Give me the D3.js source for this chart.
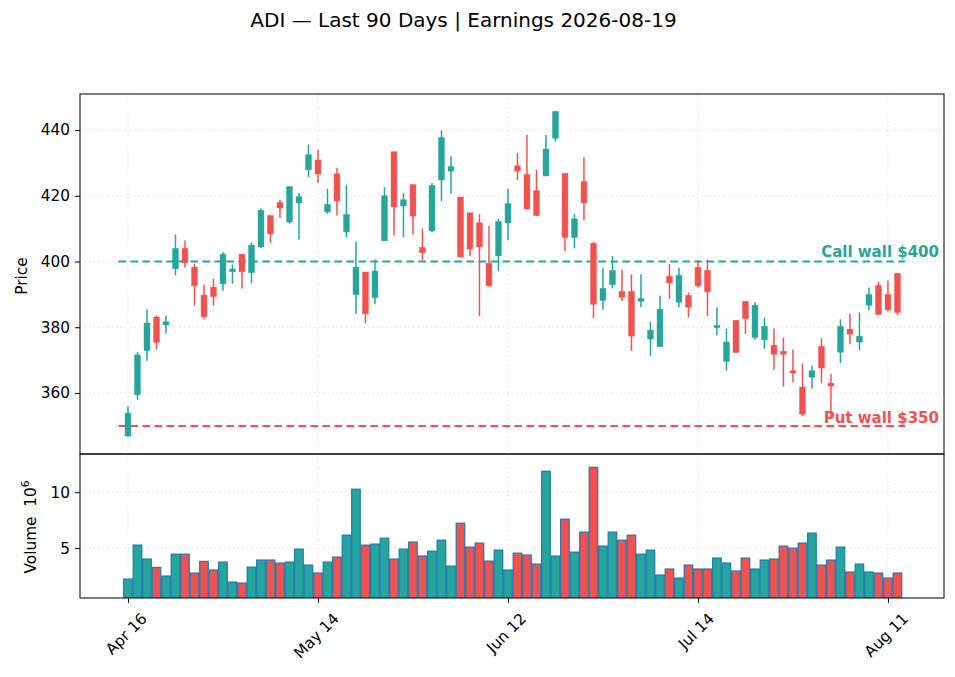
<!DOCTYPE html>
<html>
<head>
<meta charset="utf-8">
<script src="https://cdn.jsdelivr.net/npm/d3@7"></script>
<style>
  body { margin: 0; background: #fff; }
  text { font-family: "DejaVu Sans", sans-serif; }
</style>
</head>
<body>
<script>
// Data
const ticker = "ADI";
const earningsDate = "2026-08-19";
const callWall = 400;
const putWall = 350;

const dates = [
  "2026-04-16","2026-04-17","2026-04-20","2026-04-21","2026-04-22","2026-04-23","2026-04-24","2026-04-27","2026-04-28","2026-04-29",
  "2026-04-30","2026-05-01","2026-05-04","2026-05-05","2026-05-06","2026-05-07","2026-05-08","2026-05-11","2026-05-12","2026-05-13",
  "2026-05-14","2026-05-15","2026-05-18","2026-05-19","2026-05-20","2026-05-21","2026-05-22","2026-05-26","2026-05-27","2026-05-28",
  "2026-05-29","2026-06-01","2026-06-02","2026-06-03","2026-06-04","2026-06-05","2026-06-08","2026-06-09","2026-06-10","2026-06-11",
  "2026-06-12","2026-06-15","2026-06-16","2026-06-17","2026-06-18","2026-06-22","2026-06-23","2026-06-24","2026-06-25","2026-06-26",
  "2026-06-29","2026-06-30","2026-07-01","2026-07-02","2026-07-06","2026-07-07","2026-07-08","2026-07-09","2026-07-10","2026-07-13",
  "2026-07-14","2026-07-15","2026-07-16","2026-07-17","2026-07-20","2026-07-21","2026-07-22","2026-07-23","2026-07-24","2026-07-27",
  "2026-07-28","2026-07-29","2026-07-30","2026-07-31","2026-08-03","2026-08-04","2026-08-05","2026-08-06","2026-08-07","2026-08-10",
  "2026-08-11","2026-08-12"
];

const opens = [
  346.9,359.5,372.9,383.1,380.7,397.8,404.0,398.3,389.8,392.2,
  393.2,396.9,402.2,396.6,404.4,414.0,418.0,412.0,417.8,427.9,
  430.9,415.1,426.7,409.0,389.9,396.8,389.0,406.3,433.4,416.9,
  423.4,404.3,409.3,424.8,427.5,419.6,414.8,411.8,399.5,401.7,
  411.7,429.1,426.5,421.6,426.0,437.5,426.8,407.3,424.3,405.5,
  388.2,393.0,390.9,390.9,387.9,376.4,374.1,395.5,387.6,389.7,
  398.2,397.3,379.9,369.6,382.1,387.9,376.9,376.2,374.5,372.7,
  366.8,361.8,364.8,374.2,363.0,372.4,379.4,375.5,386.7,392.7,
  390.0,396.4
];
const highs = [
  356.0,372.4,385.5,383.6,383.6,408.2,406.4,399.4,393.0,394.7,
  402.8,399.1,402.2,405.8,416.1,414.0,418.8,422.8,420.8,435.6,
  433.9,422.1,428.5,423.3,406.0,396.8,400.6,422.6,433.4,420.8,
  423.4,410.0,423.9,439.8,432.0,419.6,414.8,414.4,410.8,413.0,
  422.1,433.0,438.5,427.9,438.5,445.9,426.8,414.5,431.7,406.0,
  398.1,401.7,397.5,396.1,396.1,381.7,389.6,399.3,398.1,390.5,
  400.4,400.6,386.1,379.6,382.1,387.9,387.6,382.9,379.6,376.9,
  373.2,369.0,368.4,376.6,365.8,382.4,384.2,384.5,392.1,393.8,
  394.2,396.4
];
const lows = [
  346.7,358.0,369.8,373.3,378.2,395.8,398.2,386.6,382.4,386.6,
  391.1,393.3,391.8,393.3,404.1,405.7,413.3,411.5,406.7,425.7,
  423.9,414.5,414.0,407.3,384.0,381.2,387.0,406.3,407.9,407.4,
  408.2,400.4,409.0,418.3,420.6,401.2,401.6,383.4,392.3,397.1,
  406.5,424.8,415.8,413.8,426.0,436.5,403.1,404.0,412.5,382.7,
  385.3,391.8,388.0,372.8,386.1,371.3,374.1,388.6,386.1,383.0,
  392.1,383.4,377.6,366.8,372.3,378.0,376.2,373.4,367.1,362.0,
  363.3,352.9,361.3,363.0,352.9,369.1,374.8,373.1,385.2,383.7,
  384.8,383.7
];
const closes = [
  353.9,371.6,381.3,375.4,381.7,404.0,399.6,392.6,383.2,389.3,
  402.2,397.7,396.9,405.0,415.6,408.4,416.3,422.8,419.7,432.5,
  426.6,417.4,418.4,414.3,398.3,384.1,397.1,420.0,416.6,418.8,
  413.8,402.7,423.1,437.7,428.9,401.4,403.8,404.4,392.6,412.2,
  417.6,427.5,416.0,414.0,434.2,445.6,407.3,413.0,417.8,387.0,
  391.8,397.3,389.1,377.3,388.8,379.1,385.5,393.5,395.8,386.1,
  392.6,390.8,380.6,375.5,372.3,382.6,386.7,380.3,371.8,371.8,
  366.1,353.6,366.8,367.6,362.1,380.3,377.9,377.3,390.0,383.9,
  385.3,384.5
];
// volume in millions of shares
const volumes = [
  2.23,5.27,4.02,3.27,2.50,4.46,4.46,2.77,3.81,3.04,
  3.75,1.96,1.87,3.30,3.93,3.93,3.66,3.75,4.91,3.48,
  2.77,3.75,4.20,6.16,10.27,5.27,5.36,5.89,4.02,4.91,
  5.54,4.29,4.73,5.71,3.39,7.23,5.09,5.45,3.84,4.82,
  3.04,4.55,4.38,3.57,11.88,4.29,7.59,4.64,6.43,12.23,
  5.18,6.43,5.71,6.16,4.46,4.82,2.59,3.13,2.32,3.48,
  3.13,3.13,4.11,3.66,2.95,4.11,3.13,3.93,4.02,5.18,
  5.00,5.45,6.34,3.48,3.93,5.09,2.86,3.57,2.86,2.77,
  2.32,2.77
];
const priceTicks = [360, 380, 400, 420, 440];
const volumeTicks = [5, 10];
const dateTickEvery = 20;

// Layout constants
const WIDTH = 955;
const HEIGHT = 677;
const LEFT = 80;
const RIGHT = 944;
const PRICE_TOP = 94;
const PRICE_BOTTOM = 454;
const VOL_TOP = 454;
const VOL_BOTTOM = 598;
const UP_COLOR = "#26a69a";
const DOWN_COLOR = "#ef5350";
const GRID_COLOR = "#dcdce8";
const FONT_SIZE = 15.3;

var svg = d3.select("body").append("svg")
  .attr("width", WIDTH)
  .attr("height", HEIGHT);

var n = dates.length;
var idx = d3.range(n);

var x = d3.scaleLinear().domain([-5.05, 85.9]).range([LEFT, RIGHT]);
var step = x(1) - x(0);
var yPrice = d3.scaleLinear().domain([341.45, 450.95]).range([PRICE_BOTTOM, PRICE_TOP]);
var yVol = d3.scaleLinear().domain([0.536, 13.42]).range([VOL_BOTTOM, VOL_TOP]);

var isUp = function(i) { return closes[i] >= opens[i]; };
var colorOf = function(i) { return isUp(i) ? UP_COLOR : DOWN_COLOR; };

var parseDate = d3.timeParse("%Y-%m-%d");
var fmtDate = d3.timeFormat("%b %d");
var dateTicks = idx.filter(function(i) { return i % dateTickEvery === 0; });

// clip paths so volume bars don't spill under the axis
var defs = svg.append("defs");
defs.append("clipPath").attr("id", "clipVol").append("rect")
  .attr("x", LEFT).attr("y", VOL_TOP).attr("width", RIGHT - LEFT).attr("height", VOL_BOTTOM - VOL_TOP);
defs.append("clipPath").attr("id", "clipPrice").append("rect")
  .attr("x", LEFT).attr("y", PRICE_TOP).attr("width", RIGHT - LEFT).attr("height", PRICE_BOTTOM - PRICE_TOP);

// Grid lines
var drawGrid = function(yScale, yTicks, top, bottom)
{
  var g = svg.append("g").attr("class", "grid");
  g.selectAll("line.gx").data(dateTicks).enter().append("line")
    .attr("x1", function(d) { return x(d); }).attr("x2", function(d) { return x(d); })
    .attr("y1", top).attr("y2", bottom)
    .attr("stroke", GRID_COLOR).attr("stroke-width", 1).attr("stroke-dasharray", "1.5,3");
  g.selectAll("line.gy").data(yTicks).enter().append("line")
    .attr("x1", LEFT).attr("x2", RIGHT)
    .attr("y1", function(d) { return yScale(d); }).attr("y2", function(d) { return yScale(d); })
    .attr("stroke", GRID_COLOR).attr("stroke-width", 1).attr("stroke-dasharray", "1.5,3");
};
drawGrid(yPrice, priceTicks, PRICE_TOP, PRICE_BOTTOM);
drawGrid(yVol, volumeTicks, VOL_TOP, VOL_BOTTOM);

// Wall lines with labels
var walls = [
  { value: callWall, label: "Call wall $" + callWall, color: UP_COLOR, dy: -5 },
  { value: putWall, label: "Put wall $" + putWall, color: DOWN_COLOR, dy: -3 }
];
var wallG = svg.append("g").attr("class", "walls");
wallG.selectAll("line").data(walls).enter().append("line")
  .attr("x1", x(-1)).attr("x2", x(81.8))
  .attr("y1", function(d) { return yPrice(d.value); })
  .attr("y2", function(d) { return yPrice(d.value); })
  .attr("stroke", function(d) { return d.color; })
  .attr("stroke-width", 2)
  .attr("stroke-dasharray", "7.5,4.5");

// Candles
var candleG = svg.append("g").attr("clip-path", "url(#clipPrice)");
var bodyW = step * 0.62;
candleG.selectAll("line.wick").data(idx).enter().append("line")
  .attr("class", "wick")
  .attr("x1", function(i) { return x(i); }).attr("x2", function(i) { return x(i); })
  .attr("y1", function(i) { return yPrice(highs[i]); })
  .attr("y2", function(i) { return yPrice(lows[i]); })
  .attr("stroke", colorOf)
  .attr("stroke-width", 1.5);
candleG.selectAll("rect.body").data(idx).enter().append("rect")
  .attr("class", "body")
  .attr("x", function(i) { return x(i) - bodyW / 2; })
  .attr("y", function(i) { return yPrice(Math.max(opens[i], closes[i])); })
  .attr("width", bodyW)
  .attr("height", function(i) { return Math.max(1.5, Math.abs(yPrice(opens[i]) - yPrice(closes[i]))); })
  .attr("fill", colorOf)
  .attr("stroke", colorOf)
  .attr("stroke-opacity", 0.5)
  .attr("stroke-width", 0.8);

wallG.selectAll("text").data(walls).enter().append("text")
  .attr("x", 939)
  .attr("y", function(d) { return yPrice(d.value) + d.dy; })
  .attr("text-anchor", "end")
  .attr("font-size", 15)
  .attr("font-weight", "bold")
  .attr("fill", function(d) { return d.color; })
  .text(function(d) { return d.label; });

// Volume bars
var volG = svg.append("g").attr("clip-path", "url(#clipVol)");
var barW = step * 0.9;
volG.selectAll("rect").data(idx).enter().append("rect")
  .attr("x", function(i) { return x(i) - barW / 2; })
  .attr("y", function(i) { return yVol(volumes[i]); })
  .attr("width", barW)
  .attr("height", function(i) { return yVol(0) - yVol(volumes[i]); })
  .attr("fill", colorOf)
  .attr("stroke", "#1f77b4")
  .attr("stroke-width", 1.2);

// Axes
var axisStyle = function(g)
{
  g.attr("font-size", FONT_SIZE);
  g.selectAll("path").attr("stroke", "none");
  g.selectAll("line").attr("stroke", "#000").attr("stroke-width", 1);
  g.selectAll("text").attr("font-size", FONT_SIZE).attr("fill", "#000")
    .style("font-family", "'DejaVu Sans', sans-serif");
};

svg.append("g")
  .attr("transform", "translate(" + LEFT + ",0)")
  .call(d3.axisLeft(yPrice).tickValues(priceTicks).tickSize(5).tickPadding(5))
  .call(axisStyle);

svg.append("g")
  .attr("transform", "translate(" + LEFT + ",0)")
  .call(d3.axisLeft(yVol).tickValues(volumeTicks).tickSize(5).tickPadding(5))
  .call(axisStyle);

var xAxisG = svg.append("g")
  .attr("transform", "translate(0," + VOL_BOTTOM + ")")
  .call(d3.axisBottom(x).tickValues(dateTicks).tickSize(5)
    .tickFormat(function(i) { return fmtDate(parseDate(dates[i])); }))
  .call(axisStyle);

// rotate date labels 45 degrees, centred under the tick like matplotlib
xAxisG.selectAll(".tick text").each(function()
{
  var t = d3.select(this);
  var w = this.getComputedTextLength();
  var h = FONT_SIZE * 0.95;
  var half = (w + h) * Math.SQRT1_2 / 2;
  t.attr("y", null).attr("dy", null)
    .attr("text-anchor", "middle")
    .attr("dominant-baseline", "central")
    .attr("transform", "translate(-2," + (13 + half) + ") rotate(-45)");
});

// Panel frames
[[PRICE_TOP, PRICE_BOTTOM], [VOL_TOP, VOL_BOTTOM]].forEach(function(p)
{
  svg.append("rect")
    .attr("x", LEFT).attr("y", p[0])
    .attr("width", RIGHT - LEFT).attr("height", p[1] - p[0])
    .attr("fill", "none").attr("stroke", "#000").attr("stroke-width", 1);
});

// Labels
svg.append("text")
  .attr("transform", "translate(27," + ((PRICE_TOP + PRICE_BOTTOM) / 2 + 2) + ") rotate(-90)")
  .attr("text-anchor", "middle")
  .attr("font-size", FONT_SIZE)
  .text("Price");

var volLabel = svg.append("text")
  .attr("transform", "translate(36,527) rotate(-90)")
  .attr("text-anchor", "middle")
  .attr("font-size", FONT_SIZE);
volLabel.append("tspan").text("Volume\u00a0\u00a010");
volLabel.append("tspan").attr("dy", -7).attr("font-size", FONT_SIZE * 0.7).text("6");

svg.append("text")
  .attr("x", 463.5)
  .attr("y", 27)
  .attr("text-anchor", "middle")
  .attr("font-size", 20)
  .text(ticker + " \u2014 Last 90 Days | Earnings " + earningsDate);
</script>
</body>
</html>
